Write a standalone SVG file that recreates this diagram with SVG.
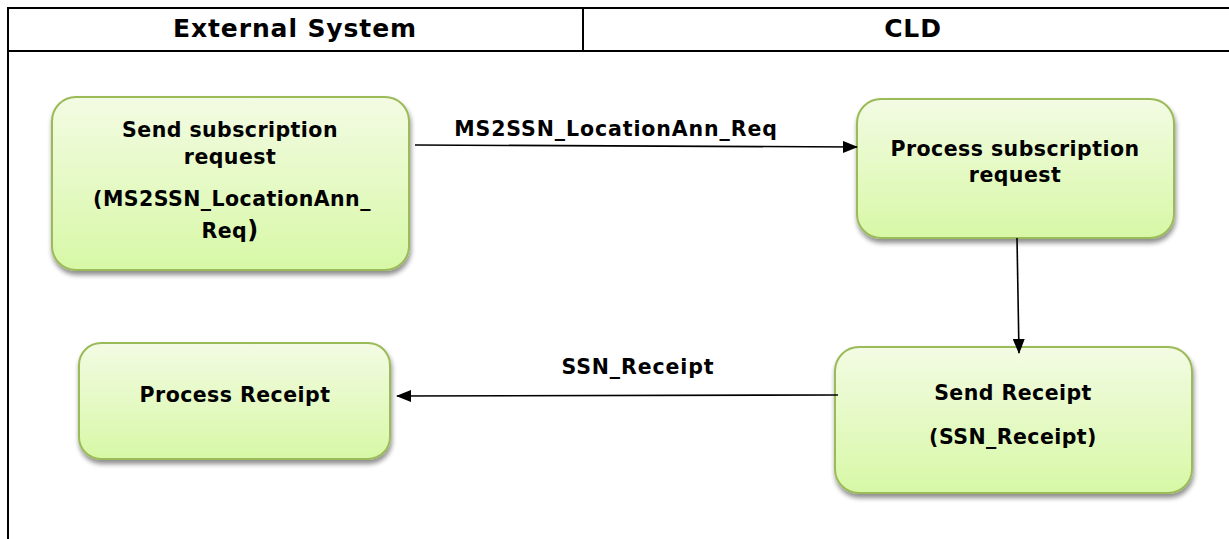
<svg xmlns="http://www.w3.org/2000/svg" width="1229" height="539" viewBox="0 0 1229 539">
<defs>
<linearGradient id="g" x1="0" y1="0" x2="0" y2="1">
<stop offset="0" stop-color="#f3fbe3"/>
<stop offset="1" stop-color="#d7f8a6"/>
</linearGradient>
<filter id="sh" x="-10%" y="-10%" width="125%" height="135%">
<feGaussianBlur in="SourceAlpha" stdDeviation="2.5"/>
<feOffset dx="1" dy="4" result="b"/>
<feComponentTransfer><feFuncA type="linear" slope="0.45"/></feComponentTransfer>
<feMerge><feMergeNode/><feMergeNode in="SourceGraphic"/></feMerge>
</filter>
<marker id="ah" markerWidth="15" markerHeight="12" refX="14" refY="6" orient="auto" markerUnits="userSpaceOnUse">
<path d="M0,0 L15,6 L0,12 Z" fill="#000"/>
</marker>
</defs>
<style>
.box{fill:url(#g);stroke:#9bbb59;stroke-width:2;filter:url(#sh)}
.t{font-family:"DejaVu Sans",Verdana,sans-serif;font-weight:bold;font-size:20.5px;letter-spacing:0.45px;fill:#000;text-anchor:middle}
.l{font-family:"DejaVu Sans",Verdana,sans-serif;font-weight:bold;font-size:20.5px;letter-spacing:0.9px;fill:#000;text-anchor:middle}
.h{font-family:"DejaVu Sans",Verdana,sans-serif;font-weight:bold;font-size:25px;letter-spacing:0.9px;fill:#000;text-anchor:middle}
.ln{stroke:#000;stroke-width:2;fill:none}
.c{stroke:#000;stroke-width:1.6;fill:none;marker-end:url(#ah)}
</style>
<rect width="1229" height="539" fill="#fff"/>
<g id="frame">
<line class="ln" x1="7" y1="8" x2="1229" y2="8"/>
<line class="ln" x1="8" y1="51" x2="1229" y2="51"/>
<line class="ln" x1="8" y1="7" x2="8" y2="539"/>
<line class="ln" x1="583" y1="8" x2="583" y2="51"/>
<text class="h" x="295" y="37">External System</text>
<text class="h" x="913" y="37">CLD</text>
</g>
<g id="n1">
<rect class="box" x="52" y="97" width="357" height="173" rx="24"/>
<text class="t" x="230" y="137">Send subscription</text>
<text class="t" x="230" y="164">request</text>
<text class="t" x="232" y="206">(MS2SSN_LocationAnn_</text>
<text class="t" x="230" y="238">Req<tspan font-size="24px">)</tspan></text>
</g>
<g id="n2">
<rect class="box" x="857" y="99" width="317" height="139" rx="24"/>
<text class="t" x="1015" y="156">Process subscription</text>
<text class="t" x="1015" y="182">request</text>
</g>
<g id="n3">
<rect class="box" x="79" y="343" width="311" height="116" rx="22"/>
<text class="t" x="235" y="402">Process Receipt</text>
</g>
<g id="n4">
<rect class="box" x="835" y="347" width="357" height="146" rx="24"/>
<text class="t" x="1013" y="400">Send Receipt</text>
<text class="t" x="1013" y="444">(SSN_Receipt)</text>
</g>
<g id="connectors">
<line class="c" x1="415" y1="145" x2="857" y2="147"/>
<text class="l" x="616" y="136">MS2SSN_LocationAnn_Req</text>
<line class="c" x1="1017" y1="238" x2="1019" y2="353"/>
<line class="c" x1="838" y1="395" x2="397" y2="396"/>
<text class="l" x="638" y="374">SSN_Receipt</text>
</g>
</svg>
